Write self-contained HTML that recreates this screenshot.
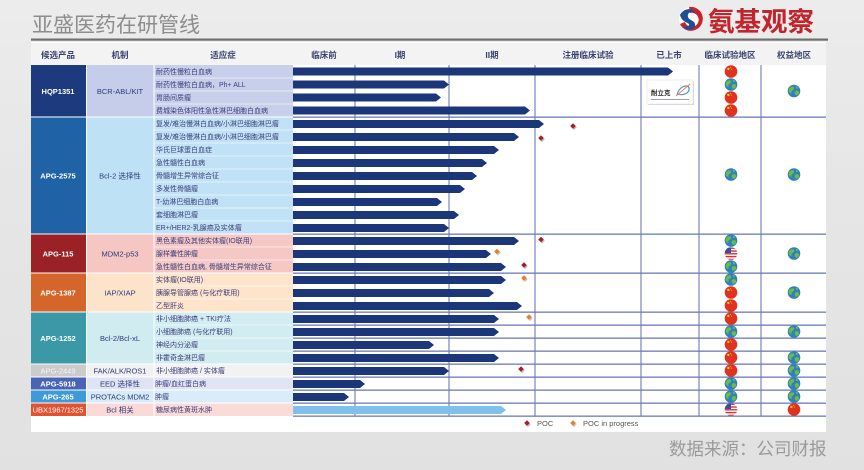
<!DOCTYPE html>
<html><head><meta charset="utf-8">
<style>
html,body{margin:0;padding:0;}
body{width:864px;height:470px;overflow:hidden;background:linear-gradient(180deg,#ececec 0%,#e6e6e6 40%,#e1e1e1 100%);}
svg{display:block;}
text{font-family:"Liberation Sans","Noto Sans CJK SC",sans-serif;}
</style></head>
<body>
<svg width="864" height="470" viewBox="0 0 864 470" xmlns="http://www.w3.org/2000/svg">
<defs>
  <g id="cn"><circle r="6.3" fill="#e0321f"/><circle cx="-2.6" cy="-2.6" r="1.2" fill="#f7d21c"/><circle cx="-0.3" cy="-4" r="0.5" fill="#f7d21c"/><circle cx="0.6" cy="-2.4" r="0.5" fill="#f7d21c"/></g>
  <g id="gl"><circle r="6.3" fill="#2f7fc4"/><path d="M-4.5,-3 C-2,-5 1,-4.5 0,-2 C-1,0 -3,-1 -2.5,1.5 C-2,3.5 -4.5,2 -5.5,0 Z" fill="#6cbd3c"/><path d="M1.5,0 C3.5,-1 5.5,0 5,2.5 C4,4.5 1.5,5 1,3 C0.5,1.5 0.5,0.5 1.5,0 Z" fill="#6cbd3c"/><path d="M2,-5 C3.5,-4.5 4.5,-3.5 3.5,-2.5 C2.5,-2 1.5,-3.5 2,-5 Z" fill="#6cbd3c"/></g>
  <clipPath id="cc"><circle r="6.3"/></clipPath>
  <g id="us"><g clip-path="url(#cc)"><rect x="-7" y="-7" width="14" height="14" fill="#fff"/><rect x="-7" y="-6" width="14" height="1.4" fill="#d2303a"/><rect x="-7" y="-3.2" width="14" height="1.4" fill="#d2303a"/><rect x="-7" y="-0.4" width="14" height="1.4" fill="#d2303a"/><rect x="-7" y="2.4" width="14" height="1.4" fill="#d2303a"/><rect x="-7" y="5.2" width="14" height="1.4" fill="#d2303a"/><rect x="-7" y="-7" width="7" height="6.5" fill="#3b4e9a"/></g></g>
  <g id="dr"><path d="M1,-1.5 L3.8,1.3 L1,4.1 L-1.8,1.3 Z" fill="#bdbdbd"/><path d="M0,-2.8 L2.8,0 L0,2.8 L-2.8,0 Z" fill="#a81f28"/></g>
  <g id="do"><path d="M1,-1.5 L3.8,1.3 L1,4.1 L-1.8,1.3 Z" fill="#c8c8c8"/><path d="M0,-2.8 L2.8,0 L0,2.8 L-2.8,0 Z" fill="#e5802a"/></g>
</defs>

<!-- title -->
<text x="32" y="32" font-size="21" fill="#8d8d8d">亚盛医药在研管线</text>
<rect x="31" y="38.5" width="797" height="2.2" fill="#6f6f6f"/>

<!-- logo -->
<g transform="translate(691,19)">
  <circle r="12" fill="#fff"/>
  <path d="M-2,-12 A12,12 0 1,1 -11,5 L-6,3 A7,7 0 1,0 -1,-6 Z" fill="#c8222c"/>
  <path d="M-11,-4 C-7,-12 3,-11 4,-6 C1,-8 -4,-7 -3,-2 C-2,2 5,1 4,7 C3,11 -4,12 -9,8 C-5,8 -1,7 -2,5 C-4,3 -9,3 -11,-4 Z" fill="#1f4e94"/>
</g>
<text x="708" y="31" font-size="26.5" font-weight="bold" fill="#c2242d" font-family="'Liberation Sans','Noto Sans CJK SC',sans-serif">氨基观察</text>

<!-- table white area -->
<rect x="31" y="42" width="795" height="390" fill="#ffffff"/>
<rect x="31" y="43" width="795" height="22" fill="#f3f3f3"/>

<!-- header texts -->
<g font-size="8.5" font-weight="bold" fill="#3b4272" text-anchor="middle">
  <text x="58" y="58">候选产品</text>
  <text x="120" y="58">机制</text>
  <text x="223" y="58">适应症</text>
  <text x="324" y="58">临床前</text>
  <text x="400" y="58">I期</text>
  <text x="492" y="58">II期</text>
  <text x="588" y="58">注册临床试验</text>
  <text x="669" y="58">已上市</text>
  <text x="730" y="58">临床试验地区</text>
  <text x="794" y="58">权益地区</text>
</g>

<!-- product cells -->
<g>
  <rect x="31" y="65" width="55" height="51.5" fill="#1d3a7f"/>
  <rect x="31" y="117.5" width="55" height="116" fill="#1f63a6"/>
  <rect x="31" y="234.5" width="55" height="38" fill="#9a2226"/>
  <rect x="31" y="273.5" width="55" height="38" fill="#d4662b"/>
  <rect x="31" y="312.5" width="55" height="51" fill="#3b99a7"/>
  <rect x="31" y="364.5" width="55" height="12" fill="#cbcbcb"/>
  <rect x="31" y="377.5" width="55" height="12" fill="#4a64b5"/>
  <rect x="31" y="390.5" width="55" height="12" fill="#3f9bd7"/>
  <rect x="31" y="403.5" width="55" height="12.5" fill="#e35230"/>
</g>
<!-- mech cells -->
<g>
  <rect x="87" y="65" width="66.5" height="51.5" fill="#c6cdea"/>
  <rect x="87" y="117.5" width="66.5" height="116" fill="#bfe1f6"/>
  <rect x="87" y="234.5" width="66.5" height="38" fill="#f6c6c3"/>
  <rect x="87" y="273.5" width="66.5" height="38" fill="#fde3c9"/>
  <rect x="87" y="312.5" width="66.5" height="51" fill="#d0ecf0"/>
  <rect x="87" y="364.5" width="66.5" height="12" fill="#f1f1f1"/>
  <rect x="87" y="377.5" width="66.5" height="12" fill="#dfe3f4"/>
  <rect x="87" y="390.5" width="66.5" height="12" fill="#d8ebf8"/>
  <rect x="87" y="403.5" width="66.5" height="12.5" fill="#fad9d7"/>
</g>
<!-- indication cells -->
<g>
  <rect x="154.5" y="65" width="138.5" height="51.5" fill="#c8cfeb"/>
  <rect x="154.5" y="117.5" width="138.5" height="116" fill="#c1e2f6"/>
  <rect x="154.5" y="234.5" width="138.5" height="38" fill="#f6c8c5"/>
  <rect x="154.5" y="273.5" width="138.5" height="38" fill="#fde4cb"/>
  <rect x="154.5" y="312.5" width="138.5" height="51" fill="#d2edf1"/>
  <rect x="154.5" y="364.5" width="138.5" height="12" fill="#f2f2f2"/>
  <rect x="154.5" y="377.5" width="138.5" height="12" fill="#e0e4f4"/>
  <rect x="154.5" y="390.5" width="138.5" height="12" fill="#d9ecf9"/>
  <rect x="154.5" y="403.5" width="138.5" height="12.5" fill="#fbdbd8"/>
  <!-- row separators -->
  <g fill="#ffffff" opacity="0.7">
    <rect x="154.5" y="77.6" width="138.5" height="0.8"/>
    <rect x="154.5" y="90.6" width="138.5" height="0.8"/>
    <rect x="154.5" y="103.6" width="138.5" height="0.8"/>
    <rect x="154.5" y="129.6" width="138.5" height="0.8"/>
    <rect x="154.5" y="142.6" width="138.5" height="0.8"/>
    <rect x="154.5" y="155.6" width="138.5" height="0.8"/>
    <rect x="154.5" y="168.6" width="138.5" height="0.8"/>
    <rect x="154.5" y="181.6" width="138.5" height="0.8"/>
    <rect x="154.5" y="194.6" width="138.5" height="0.8"/>
    <rect x="154.5" y="207.6" width="138.5" height="0.8"/>
    <rect x="154.5" y="220.6" width="138.5" height="0.8"/>
    <rect x="154.5" y="246.6" width="138.5" height="0.8"/>
    <rect x="154.5" y="259.6" width="138.5" height="0.8"/>
    <rect x="154.5" y="285.6" width="138.5" height="0.8"/>
    <rect x="154.5" y="298.6" width="138.5" height="0.8"/>
    <rect x="154.5" y="324.6" width="138.5" height="0.8"/>
    <rect x="154.5" y="337.6" width="138.5" height="0.8"/>
    <rect x="154.5" y="350.6" width="138.5" height="0.8"/>
  </g>
</g>

<!-- product names -->
<g font-size="7.5" font-weight="bold" fill="#ffffff" text-anchor="middle">
  <text x="58" y="94">HQP1351</text>
  <text x="58" y="178.5">APG-2575</text>
  <text x="58" y="256.5">APG-115</text>
  <text x="58" y="295.5">APG-1387</text>
  <text x="58" y="341">APG-1252</text>
  <text x="58" y="373.5" fill="#f4f4f4" font-weight="normal">APG-2449</text>
  <text x="58" y="386.5">APG-5918</text>
  <text x="58" y="399.5">APG-265</text>
  <text x="58" y="412.5" font-weight="normal">UBX1967/1325</text>
</g>
<!-- mechanisms -->
<g font-size="7.5" fill="#2d3a78" text-anchor="middle">
  <text x="120" y="94">BCR-ABL/KIT</text>
  <text x="120" y="178.5">Bcl-2 选择性</text>
  <text x="120" y="256.5">MDM2-p53</text>
  <text x="120" y="295.5">IAP/XIAP</text>
  <text x="120" y="341">Bcl-2/Bcl-xL</text>
  <text x="120" y="373.5">FAK/ALK/ROS1</text>
  <text x="120" y="386.5">EED 选择性</text>
  <text x="120" y="399.5">PROTACs MDM2</text>
  <text x="120" y="412.5">Bcl 相关</text>
</g>
<!-- indications -->
<g font-size="7" fill="#3b3d7a">
  <text x="156" y="74">耐药性慢粒白血病</text>
  <text x="156" y="87">耐药性慢粒白血病，Ph+ ALL</text>
  <text x="156" y="100">胃肠间质瘤</text>
  <text x="156" y="113">费城染色体阳性急性淋巴细胞白血病</text>
  <text x="156" y="126">复发/难治慢淋白血病/小淋巴细胞淋巴瘤</text>
  <text x="156" y="139">复发/难治慢淋白血病/小淋巴细胞淋巴瘤</text>
  <text x="156" y="152">华氏巨球蛋白血症</text>
  <text x="156" y="165">急性髓性白血病</text>
  <text x="156" y="178">骨髓增生异常综合征</text>
  <text x="156" y="191">多发性骨髓瘤</text>
  <text x="156" y="204">T-幼淋巴细胞白血病</text>
  <text x="156" y="217">套细胞淋巴瘤</text>
  <text x="156" y="230">ER+/HER2-乳腺癌及实体瘤</text>
  <text x="156" y="243">黑色素瘤及其他实体瘤(IO联用)</text>
  <text x="156" y="256">腺样囊性肿瘤</text>
  <text x="156" y="269">急性髓性白血病, 骨髓增生异常综合征</text>
  <text x="156" y="282">实体瘤(IO联用)</text>
  <text x="156" y="295">胰腺导管腺癌 (与化疗联用)</text>
  <text x="156" y="308">乙型肝炎</text>
  <text x="156" y="321">非小细胞肺癌 + TKI疗法</text>
  <text x="156" y="334">小细胞肺癌 (与化疗联用)</text>
  <text x="156" y="347">神经内分泌瘤</text>
  <text x="156" y="360">非霍奇金淋巴瘤</text>
  <text x="156" y="373">非小细胞肺癌 / 实体瘤</text>
  <text x="155" y="386">肿瘤/血红蛋白病</text>
  <text x="155" y="399">肿瘤</text>
  <text x="156" y="412">糖尿病性黄斑水肿</text>
</g>

<!-- grid lines -->
<g fill="#5f6db2">
  <rect x="354.5" y="65" width="1" height="351"/>
  <rect x="448.5" y="65" width="1" height="351"/>
  <rect x="534.5" y="65" width="1" height="351"/>
  <rect x="640.5" y="65" width="1" height="351"/>
  <rect x="698.5" y="65" width="1" height="351"/>
  <rect x="760.5" y="65" width="1" height="351"/>
</g>
<g fill="#6e7bb9">
  <rect x="293" y="116.5" width="533" height="1.3"/>
  <rect x="293" y="233.5" width="533" height="1.3"/>
  <rect x="293" y="272.5" width="533" height="1.3"/>
  <rect x="293" y="311.5" width="533" height="1.3"/>
  <rect x="293" y="324.5" width="533" height="1.3"/>
  <rect x="293" y="337.5" width="533" height="1.3"/>
  <rect x="293" y="350.5" width="533" height="1.3"/>
  <rect x="293" y="363.5" width="533" height="1.3"/>
  <rect x="293" y="376.5" width="533" height="1.3"/>
  <rect x="293" y="389.5" width="533" height="1.3"/>
  <rect x="293" y="402.5" width="533" height="1.3"/>
  <rect x="293" y="415.5" width="533" height="1.3"/>
</g>

<!-- bars -->
<g fill="#1b3679">
  <polygon points="293,67.5 668,67.5 673,71.5 668,75.5 293,75.5"/>
  <polygon points="293,80.5 444,80.5 449,84.5 444,88.5 293,88.5"/>
  <polygon points="293,93.5 436,93.5 441,97.5 436,101.5 293,101.5"/>
  <polygon points="293,106.5 525,106.5 530,110.5 525,114.5 293,114.5"/>
  <polygon points="293,120 539,120 544,124 539,128 293,128"/>
  <polygon points="293,133 514,133 519,137 514,141 293,141"/>
  <polygon points="293,146 494,146 499,150 494,154 293,154"/>
  <polygon points="293,159 482,159 487,163 482,167 293,167"/>
  <polygon points="293,172 472,172 477,176 472,180 293,180"/>
  <polygon points="293,185 460,185 465,189 460,193 293,193"/>
  <polygon points="293,198 437,198 442,202 437,206 293,206"/>
  <polygon points="293,211 454,211 459,215 454,219 293,219"/>
  <polygon points="293,224 444,224 449,228 444,232 293,232"/>
  <polygon points="293,237 514,237 519,241 514,245 293,245"/>
  <polygon points="293,250 486,250 491,254 486,258 293,258"/>
  <polygon points="293,263 501,263 506,267 501,271 293,271"/>
  <polygon points="293,276 501,276 506,280 501,284 293,284"/>
  <polygon points="293,289 489,289 494,293 489,297 293,297"/>
  <polygon points="293,302 517,302 522,306 517,310 293,310"/>
  <polygon points="293,315 494,315 499,319 494,323 293,323"/>
  <polygon points="293,328 494,328 499,332 494,336 293,336"/>
  <polygon points="293,341 429,341 434,345 429,349 293,349"/>
  <polygon points="293,354 494,354 499,358 494,362 293,362"/>
  <polygon points="293,367 444,367 449,371 444,375 293,375"/>
  <polygon points="293,380 360,380 365,384 360,388 293,388"/>
  <polygon points="293,393 344,393 349,397 344,401 293,401"/>
  <polygon points="293,406 501,406 506,410 501,414 293,414" fill="#7fc1ea"/>
</g>

<!-- markers -->
<use href="#dr" x="573" y="126"/>
<use href="#dr" x="541" y="138"/>
<use href="#dr" x="541" y="239.5"/>
<use href="#do" x="497" y="251.5"/>
<use href="#dr" x="524" y="265"/>
<use href="#do" x="524" y="278"/>
<use href="#do" x="529" y="317"/>
<use href="#dr" x="521" y="369"/>

<!-- 耐立克 logo box -->
<rect x="648" y="81" width="46" height="24" fill="#d8d8d8"/>
<rect x="647" y="80" width="46" height="24" fill="#ffffff" stroke="#e2e2e2" stroke-width="0.6"/>
<text x="651" y="95" font-size="6.5" font-weight="bold" fill="#2b2b2b">耐立克</text>
<path d="M677,95 C679,86 688,84 689,88 C690,93 683,96 678,94" fill="none" stroke="#5b8fd0" stroke-width="1.2"/>
<path d="M676,96 L690,84" stroke="#e0843a" stroke-width="0.9"/>
<rect x="651" y="99" width="38" height="1" fill="#9aa0b0"/>

<!-- clinical region flags -->
<use href="#cn" x="731" y="71.5"/>
<use href="#gl" x="731" y="84.5"/>
<use href="#cn" x="731" y="97.5"/>
<use href="#cn" x="731" y="110.5"/>
<use href="#gl" x="731" y="174.5"/>
<use href="#gl" x="731" y="240.5"/>
<use href="#us" x="731" y="253.5"/>
<use href="#gl" x="731" y="266.5"/>
<use href="#gl" x="731" y="279.5"/>
<use href="#cn" x="731" y="292.5"/>
<use href="#cn" x="731" y="305.5"/>
<use href="#cn" x="731" y="318.5"/>
<use href="#gl" x="731" y="331.5"/>
<use href="#cn" x="731" y="344.5"/>
<use href="#cn" x="731" y="357.5"/>
<use href="#cn" x="731" y="370.5"/>
<use href="#gl" x="731" y="383.5"/>
<use href="#gl" x="731" y="396.5"/>
<use href="#us" x="731" y="409.5"/>

<!-- rights flags -->
<use href="#gl" x="794" y="91"/>
<use href="#gl" x="794" y="174.5"/>
<use href="#gl" x="794" y="253.5"/>
<use href="#gl" x="794" y="292.5"/>
<use href="#gl" x="794" y="331.5"/>
<use href="#gl" x="794" y="357.5"/>
<use href="#gl" x="794" y="370.5"/>
<use href="#gl" x="794" y="383.5"/>
<use href="#gl" x="794" y="396.5"/>
<use href="#cn" x="794" y="409.5"/>

<!-- legend -->
<use href="#dr" x="527" y="423"/>
<text x="537" y="426" font-size="7.5" fill="#555">POC</text>
<use href="#do" x="573" y="423"/>
<text x="583" y="426" font-size="7.5" fill="#555">POC in progress</text>

<!-- source -->
<text x="669" y="455" font-size="17.5" fill="#9a9a9a">数据来源：公司财报</text>
</svg>
</body></html>
